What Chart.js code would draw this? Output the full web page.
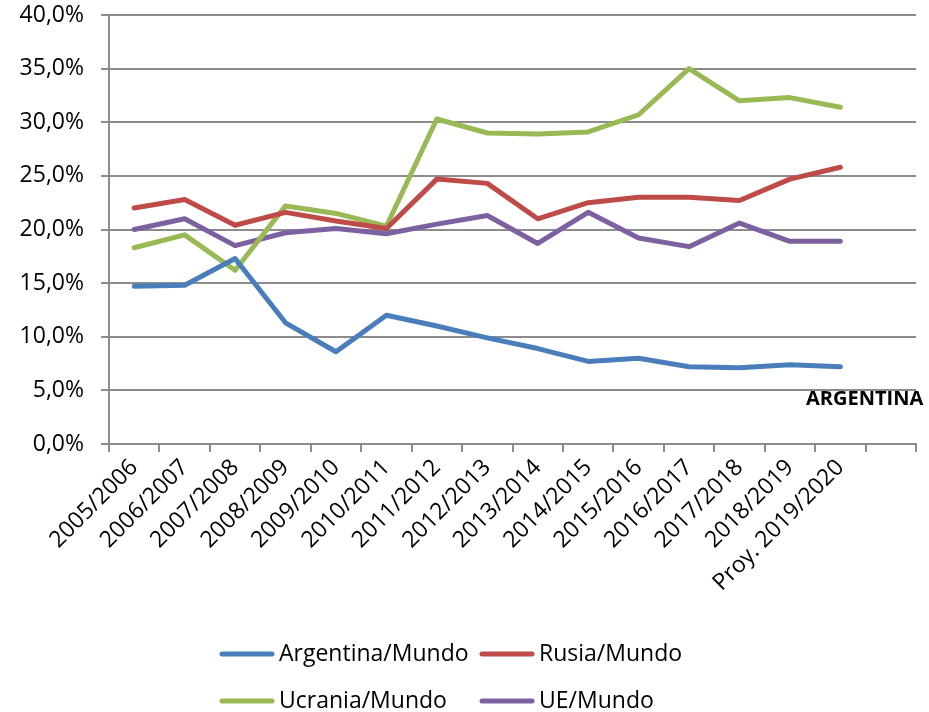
<!DOCTYPE html>
<html>
<head>
<meta charset="utf-8">
<script src="https://cdn.jsdelivr.net/npm/chart.js@4/dist/chart.umd.min.js"></script>
<style>
  html, body { margin: 0; padding: 0; background: #fff; }
  #wrap { width: 929px; height: 712px; position: relative; }
</style>
</head>
<body>
<div id="wrap"><canvas id="chart"></canvas></div>
<script>
const campaigns = ['2005/2006', '2006/2007', '2007/2008', '2008/2009', '2009/2010', '2010/2011',
    '2011/2012', '2012/2013', '2013/2014', '2014/2015', '2015/2016', '2016/2017',
    '2017/2018', '2018/2019', 'Proy. 2019/2020', ''];

const argentina = [14.7, 14.8, 17.3, 11.3, 8.6, 12.0, 11.0, 9.9, 8.9, 7.7, 8.0, 7.2, 7.1, 7.4, 7.2];
const rusia = [22.0, 22.8, 20.4, 21.6, 20.8, 20.1, 24.7, 24.3, 21.0, 22.5, 23.0, 23.0, 22.7, 24.7, 25.8];
const ucrania = [18.3, 19.5, 16.2, 22.2, 21.5, 20.3, 30.3, 29.0, 28.9, 29.1, 30.7, 35.0, 32.0, 32.3, 31.4];
const ue = [20.0, 21.0, 18.5, 19.7, 20.1, 19.6, 20.5, 21.3, 18.7, 21.6, 19.2, 18.4, 20.6, 18.9, 18.9];

const yTicks = [0, 5, 10, 15, 20, 25, 30, 35, 40];

const FONT = '"Open Sans", "Noto Sans", sans-serif';
const gridGray = '#8c8c8c';

const line = (label, data, color) => ({
    label: label,
    data: data,
    borderColor: color,
    backgroundColor: color,
    borderWidth: 5,
    pointRadius: 0,
    pointHoverRadius: 0,
    tension: 0,
    borderCapStyle: 'round',
    borderJoinStyle: 'round',
    fill: false
});

// legend in two fixed columns, like the original
const legendPlugin = {
    id: 'fixedLegend',
    afterDraw(chart) {
        const ctx = chart.ctx;
        const cols = [220, 480];
        const rows = [654, 701];
        ctx.save();
        ctx.font = '23px ' + FONT;
        ctx.textBaseline = 'middle';
        ctx.textAlign = 'left';
        chart.data.datasets.forEach((ds, i) => {
            const x = cols[i % 2];
            const y = rows[Math.floor(i / 2)];
            ctx.strokeStyle = ds.borderColor;
            ctx.lineWidth = 5;
            ctx.lineCap = 'round';
            ctx.beginPath();
            ctx.moveTo(x + 2, y);
            ctx.lineTo(x + 52, y);
            ctx.stroke();
            ctx.fillStyle = '#000';
            ctx.fillText(ds.label, x + 59, y);
        });
        // series label on the chart
        ctx.font = 'bold 20px ' + FONT;
        ctx.fillText('ARGENTINA', 806, 399);
        ctx.restore();
    }
};

new Chart(document.getElementById('chart'), {
    type: 'line',
    data: {
        labels: campaigns,
        datasets: [
            line('Argentina/Mundo', argentina, '#4a7ebb'),
            line('Rusia/Mundo', rusia, '#be4b48'),
            line('Ucrania/Mundo', ucrania, '#98b954'),
            line('UE/Mundo', ue, '#7d60a0')
        ]
    },
    options: {
        responsive: true,
        maintainAspectRatio: false,
        animation: false,
        layout: {
            padding: { left: 0, right: 13, top: 15, bottom: 0 }
        },
        plugins: {
            legend: { display: false },
            tooltip: { enabled: false }
        },
        scales: {
            x: {
                type: 'category',
                offset: true,
                grid: {
                    offset: true,
                    drawOnChartArea: false,
                    drawTicks: true,
                    tickLength: 8,
                    color: gridGray,
                    lineWidth: 2
                },
                border: { color: gridGray, width: 2 },
                ticks: {
                    autoSkip: false,
                    minRotation: 45,
                    maxRotation: 45,
                    padding: 2,
                    color: '#000',
                    font: { family: FONT, size: 23 }
                },
                afterFit: scale => { scale.height = 268; }
            },
            y: {
                min: 0,
                max: 40,
                afterBuildTicks: scale => {
                    scale.ticks = yTicks.map(v => ({ value: v }));
                },
                grid: {
                    color: gridGray,
                    lineWidth: 2,
                    tickLength: 8
                },
                border: { color: gridGray, width: 2 },
                ticks: {
                    padding: 17,
                    color: '#000',
                    font: { family: FONT, size: 23 },
                    callback: v => v.toFixed(1).replace('.', ',') + '%'
                },
                afterFit: scale => {
                    scale.width = 109;
                    scale.paddingTop = 0;
                    scale.paddingBottom = 0;
                }
            }
        }
    },
    plugins: [legendPlugin]
});
</script>
</body>
</html>
